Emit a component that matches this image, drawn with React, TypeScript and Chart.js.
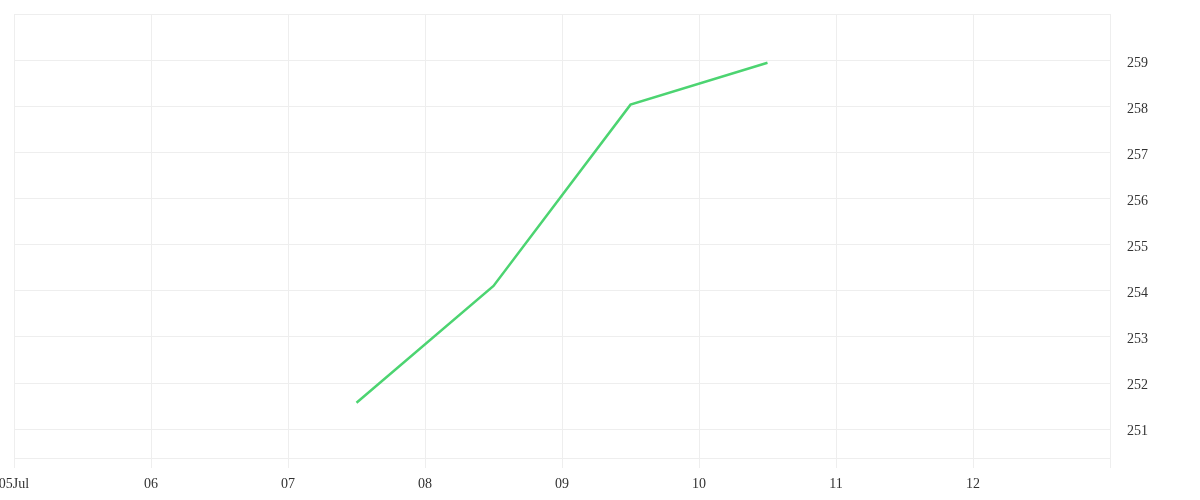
import React, { useEffect, useRef } from 'react'
import { Chart, registerables } from 'chart.js'

Chart.register(...registerables)

// days of July, plotted at mid-day
const pointDays = [7.5, 8.5, 9.5, 10.5]
const prices = [251.57, 254.11, 258.05, 258.96]

const xTickDays = [5, 6, 7, 8, 9, 10, 11, 12]
const xTickLabels = ['05Jul', '06', '07', '08', '09', '10', '11', '12']
const yTickValues = [251, 252, 253, 254, 255, 256, 257, 258, 259]

const X_MIN = 5
const X_MAX = 13
const Y_MIN = 250.37
const Y_MAX = 260.02

const FONT = { family: "'Liberation Serif', serif", size: 14 }
const GRID = '#eeeeee'

const App: React.FC = () => {
	const chartRef = useRef<HTMLCanvasElement>(null)

	useEffect(() => {
		document.body.style.margin = '0'
		if (!chartRef.current) return
		const context = chartRef.current.getContext('2d')
		if (!context) return

		const chart = new Chart(context, {
			type: 'line',
			data: {
				datasets: [
					{
						data: pointDays.map((d, i) => ({ x: d, y: prices[i] })),
						borderColor: '#4cd471',
						borderWidth: 2.5,
						pointRadius: 0,
						tension: 0,
					},
				],
			},
			options: {
				responsive: false,
				animation: false,
				layout: { padding: { left: 14, top: 14, right: 0, bottom: 0 } },
				plugins: { legend: { display: false }, tooltip: { enabled: false } },
				scales: {
					x: {
						type: 'linear',
						min: X_MIN,
						max: X_MAX,
						afterBuildTicks: (scale: any) => {
							scale.ticks = [...xTickDays, X_MAX].map((v) => ({ value: v }))
						},
						afterFit: (scale: any) => {
							scale.height = 42
							scale.paddingLeft = 0
							scale.paddingRight = 0
						},
						grid: { color: GRID, tickLength: 10, lineWidth: 1 },
						border: { color: GRID },
						ticks: {
							autoSkip: false,
							maxRotation: 0,
							padding: 8,
							color: '#333333',
							font: FONT,
							callback: (v: any) => {
								const i = xTickDays.indexOf(Number(v))
								return i >= 0 ? xTickLabels[i] : ''
							},
						},
					},
					y: {
						position: 'right',
						min: Y_MIN,
						max: Y_MAX,
						afterBuildTicks: (scale: any) => {
							scale.ticks = [Y_MIN, ...yTickValues, Y_MAX].map((v) => ({ value: v }))
						},
						afterFit: (scale: any) => {
							scale.width = 90
							scale.paddingTop = 0
							scale.paddingBottom = 0
						},
						grid: { color: GRID, drawTicks: false },
						border: { color: GRID },
						ticks: {
							padding: 17,
							labelOffset: 2,
							color: '#333333',
							font: FONT,
							callback: (v: any) => (yTickValues.includes(Number(v)) ? String(v) : ''),
						},
					},
				},
			},
		})

		return () => {
			chart.destroy()
		}
	}, [])

	return (
		<div style={{ width: 1200, height: 500 }}>
			<canvas ref={chartRef} width={1200} height={500} />
		</div>
	)
}

export default App
